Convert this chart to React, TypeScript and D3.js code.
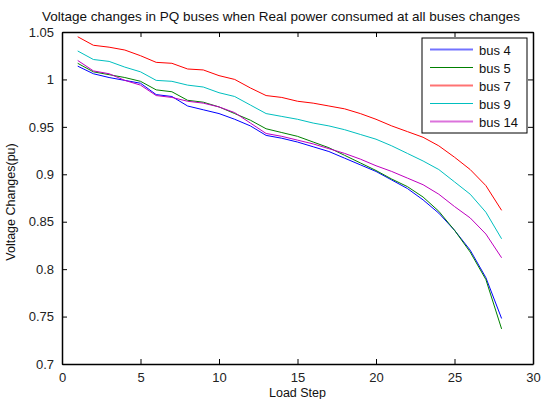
import React, { useEffect, useRef } from 'react';
import * as d3 from 'd3';

const steps = d3.range(1, 29);
const bus4 = [1.014, 1.006, 1.002, 0.999, 0.996, 0.984, 0.982, 0.972, 0.968, 0.964, 0.958, 0.951, 0.941, 0.938, 0.934, 0.929, 0.924, 0.917, 0.910, 0.903, 0.894, 0.885, 0.873, 0.859, 0.841, 0.820, 0.791, 0.748];
const bus5 = [1.017, 1.008, 1.005, 1.002, 0.998, 0.989, 0.987, 0.978, 0.976, 0.971, 0.964, 0.957, 0.948, 0.944, 0.940, 0.934, 0.928, 0.920, 0.912, 0.904, 0.895, 0.887, 0.876, 0.861, 0.841, 0.818, 0.789, 0.737];
const bus7 = [1.045, 1.036, 1.034, 1.031, 1.025, 1.018, 1.017, 1.011, 1.010, 1.004, 1.000, 0.991, 0.983, 0.981, 0.977, 0.975, 0.972, 0.969, 0.964, 0.958, 0.951, 0.945, 0.939, 0.930, 0.918, 0.905, 0.888, 0.862];
const bus9 = [1.030, 1.021, 1.019, 1.013, 1.008, 0.999, 0.998, 0.994, 0.992, 0.986, 0.982, 0.973, 0.964, 0.961, 0.958, 0.954, 0.951, 0.947, 0.942, 0.937, 0.930, 0.922, 0.914, 0.905, 0.892, 0.879, 0.860, 0.832];
const bus14 = [1.020, 1.009, 1.006, 0.999, 0.994, 0.983, 0.981, 0.977, 0.975, 0.971, 0.965, 0.954, 0.943, 0.940, 0.936, 0.932, 0.927, 0.922, 0.916, 0.909, 0.903, 0.896, 0.889, 0.879, 0.866, 0.854, 0.837, 0.812];

const seriesNames = ['bus 4', 'bus 5', 'bus 7', 'bus 9', 'bus 14'];
const seriesValues = [bus4, bus5, bus7, bus9, bus14];
const colors = ['#0000ff', '#008000', '#ff0000', '#00bfbf', '#bf00bf'];

const xTicks = [0, 5, 10, 15, 20, 25, 30];
const yTicks = [0.7, 0.75, 0.8, 0.85, 0.9, 0.95, 1, 1.05];

export default () => {
  const svgRef = useRef<SVGSVGElement>(null);

  useEffect(() => {
    if (!svgRef.current) return;
    const svg = d3.select(svgRef.current);
    svg.selectAll('*').remove();

    const left = 62, right = 533, top = 32, bottom = 364;
    const font = 'Liberation Sans, Arial, sans-serif';

    const x = d3.scaleLinear().domain([0, 30]).range([left, right]);
    const y = d3.scaleLinear().domain([0.7, 1.05]).range([bottom, top]);

    svg.append('rect')
      .attr('width', 547).attr('height', 399).attr('fill', '#fff');

    // lines
    const line = d3.line<number>()
      .x((d, i) => x(steps[i]))
      .y(d => y(d));

    seriesValues.forEach((vals, k) => {
      svg.append('path')
        .attr('d', line(vals))
        .attr('fill', 'none')
        .attr('stroke', colors[k])
        .attr('stroke-width', 1);
    });

    // axes, matlab style: ticks inward on all four sides
    const bottomAx = d3.axisBottom(x).tickValues(xTicks).tickSizeInner(-5).tickSizeOuter(0).tickPadding(9).tickFormat(d3.format('d'));
    const topAx = d3.axisTop(x).tickValues(xTicks).tickSizeInner(-5).tickSizeOuter(0).tickFormat(() => '');
    const leftAx = d3.axisLeft(y).tickValues(yTicks).tickSizeInner(-5).tickSizeOuter(0).tickPadding(8).tickFormat(d => String(+d));
    const rightAx = d3.axisRight(y).tickValues(yTicks).tickSizeInner(-5).tickSizeOuter(0).tickFormat(() => '');

    const gb = svg.append('g').attr('transform', `translate(0,${bottom})`).call(bottomAx);
    const gt = svg.append('g').attr('transform', `translate(0,${top})`).call(topAx);
    const gl = svg.append('g').attr('transform', `translate(${left},0)`).call(leftAx);
    const gr = svg.append('g').attr('transform', `translate(${right},0)`).call(rightAx);

    [gb, gt, gl, gr].forEach(g => {
      g.select('.domain').attr('stroke', '#000').attr('stroke-width', 1.5);
      g.selectAll('.tick line').attr('stroke', '#000');
      g.selectAll('text').attr('font-family', font).attr('font-size', 13).attr('fill', '#222');
    });

    // title + axis labels
    svg.append('text')
      .attr('x', 281).attr('y', 21)
      .attr('text-anchor', 'middle')
      .attr('font-family', font).attr('font-size', 13.5)
      .attr('fill', '#111')
      .text('Voltage changes in PQ buses when Real power consumed at all buses changes');

    svg.append('text')
      .attr('x', (left + right) / 2).attr('y', 397)
      .attr('text-anchor', 'middle')
      .attr('font-family', font).attr('font-size', 12.5)
      .attr('fill', '#111')
      .text('Load Step');

    svg.append('text')
      .attr('transform', `translate(15,${(top + bottom) / 2 + 4}) rotate(-90)`)
      .attr('text-anchor', 'middle')
      .attr('font-family', font).attr('font-size', 12.5)
      .attr('fill', '#111')
      .text('Voltage Changes(pu)');

    // legend (bus 5 / bus 9 samples are thin in the original, the rest thick + faded)
    const thin = [false, true, false, true, false];
    const lg = svg.append('g');
    lg.append('rect')
      .attr('x', 422).attr('y', 38).attr('width', 105).attr('height', 95)
      .attr('fill', '#fff').attr('stroke', '#000').attr('stroke-width', 1);
    seriesNames.forEach((name, k) => {
      const yy = 49.5 + k * 18;
      lg.append('line')
        .attr('x1', 430).attr('x2', 473).attr('y1', yy).attr('y2', yy)
        .attr('stroke', colors[k])
        .attr('stroke-width', thin[k] ? 1 : 2)
        .attr('stroke-opacity', thin[k] ? 1 : 0.55);
      lg.append('text')
        .attr('x', 479).attr('y', yy + 5)
        .attr('font-family', font).attr('font-size', 13)
        .attr('fill', '#111')
        .text(name);
    });
  }, []);

  return (
    <svg ref={svgRef} width={547} height={399} style={{ position: 'absolute', left: 0, top: 0 }} />
  );
};
